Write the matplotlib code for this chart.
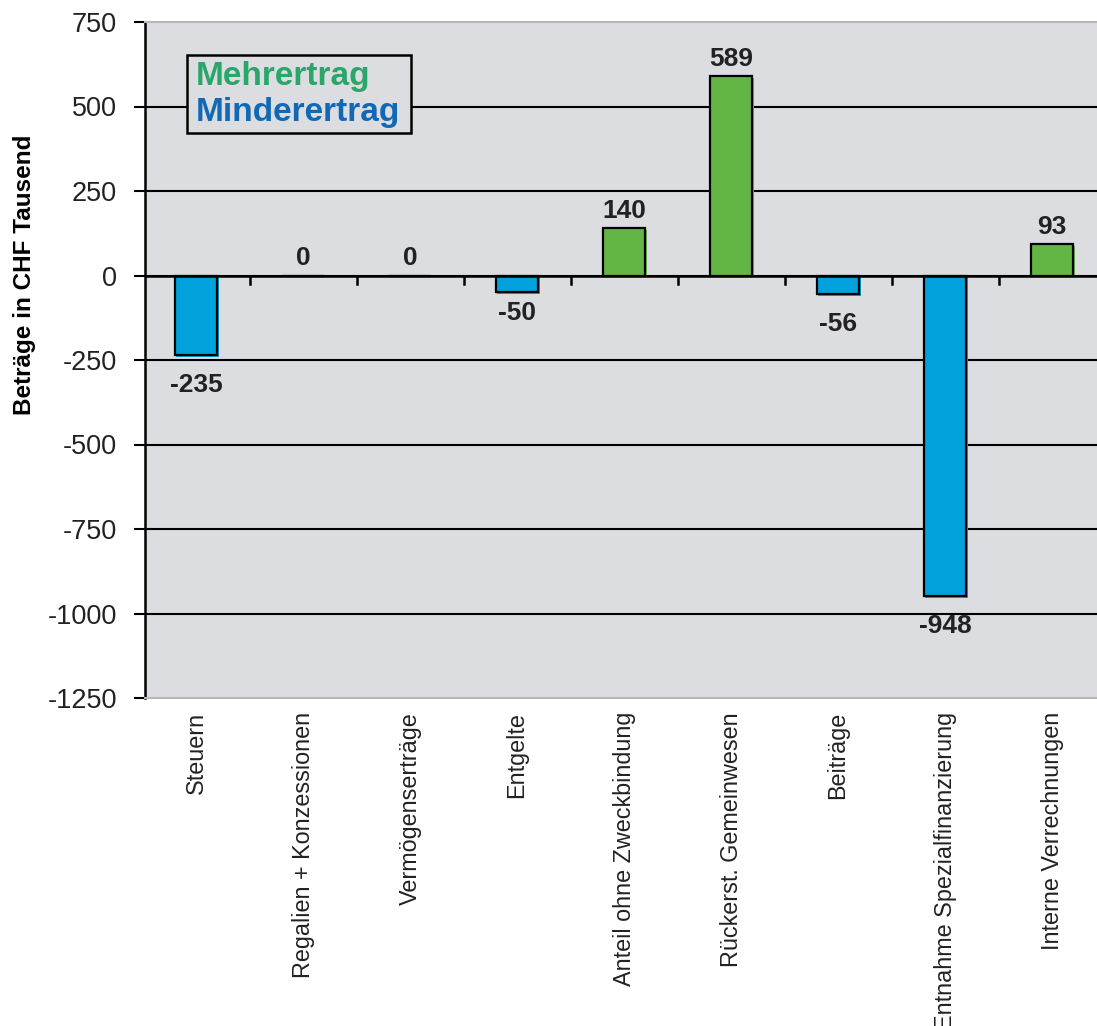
import matplotlib
matplotlib.use("Agg")
import matplotlib.pyplot as plt
import matplotlib.patheffects as pe
from matplotlib.patches import Rectangle
import numpy as np

categories = ["Steuern", "Regalien + Konzessionen", "Vermögenserträge", "Entgelte",
              "Anteil ohne Zweckbindung", "Rückerst. Gemeinwesen", "Beiträge",
              "Entnahme Spezialfinanzierung", "Interne Verrechnungen"]
values = [-235, 0, 0, -50, 140, 589, -56, -948, 93]
yticks = [750, 500, 250, 0, -250, -500, -750, -1000, -1250]

plt.rcParams['font.family'] = ['Liberation Sans', 'DejaVu Sans']

BLUE = "#00a1dd"
GREEN = "#63b545"
BG = "#dcdde0"

fig = plt.figure(figsize=(10.97, 10.26), dpi=100)
ax = fig.add_axes([145/1097, 1 - 698/1026, (1097-145)/1097, (698-22)/1026])
ax.set_facecolor(BG)

x = np.arange(len(categories))
colors = [GREEN if v > 0 else BLUE for v in values]

bars = ax.bar(x, values, width=0.4, color=colors, edgecolor="black", linewidth=1.6, zorder=4)
for b, c in zip(bars, colors):
    b.set_path_effects([pe.SimplePatchShadow(offset=(1.3, -1.3), shadow_rgbFace=c, alpha=1.0),
                        pe.Normal()])

ax.set_xlim(-0.477, 8.42)
ax.set_ylim(-1250, 750)
ax.set_yticks(yticks)
ax.set_yticklabels([str(t) for t in yticks], fontsize=19.5, color="#222222")
ax.tick_params(axis='y', direction='out', length=8, width=1.5, pad=12)
for t in yticks:
    if -1250 < t < 750:
        ax.axhline(t, color="black", linewidth=1.5, zorder=2)
ax.axhline(0, color="black", linewidth=1.8, zorder=5)
for b in np.arange(0.5, len(categories) - 1, 1.0):
    ax.plot([b, b], [0, -25], color="black", linewidth=1.8, zorder=5)

ax.set_xticks(x)
ax.set_xticklabels(categories, rotation=90, fontsize=16.8, color="#222222", va='top')
ax.tick_params(axis='x', length=0, pad=10)

for s in ["top", "bottom"]:
    ax.spines[s].set_color("#b8b8b8")
    ax.spines[s].set_linewidth(1.5)
ax.spines["right"].set_visible(False)
ax.spines["left"].set_color("black")
ax.spines["left"].set_linewidth(1.8)

for xi, v in zip(x, values):
    if v > 0:
        ax.annotate(str(v), (xi, v), xytext=(0, 4), textcoords="offset points",
                    ha="center", va="bottom", fontsize=19, fontweight="bold", color="#222222", zorder=6)
    elif v < 0:
        off = -6 if v > -53 else -13
        ax.annotate(str(v), (xi, v), xytext=(0, off), textcoords="offset points",
                    ha="center", va="top", fontsize=19, fontweight="bold", color="#222222", zorder=6)
    else:
        ax.annotate("0", (xi, v), xytext=(0, 4), textcoords="offset points",
                    ha="center", va="bottom", fontsize=19, fontweight="bold", color="#222222", zorder=6)

ax.set_ylabel("Beträge in CHF Tausend", fontsize=17.5, fontweight="bold", color="black")
ax.yaxis.set_label_coords(-0.115, (698 - 275) / 676)

# legend box
lx0, ly0, lx1, ly1 = 187, 55, 411, 133
rect = Rectangle((lx0/1097, 1 - ly1/1026), (lx1-lx0)/1097, (ly1-ly0)/1026,
                 transform=fig.transFigure, facecolor=BG, edgecolor="black", linewidth=1.8, zorder=10)
fig.patches.append(rect)
fig.text(196/1097, 1 - 77/1026, "Mehrertrag", color="#2aa66a", fontsize=24, fontweight="bold",
         va="center", ha="left", zorder=11)
fig.text(196/1097, 1 - 113/1026, "Minderertrag", color="#1168b4", fontsize=24, fontweight="bold",
         va="center", ha="left", zorder=11)

fig.savefig("out.png", dpi=100, facecolor="white")
